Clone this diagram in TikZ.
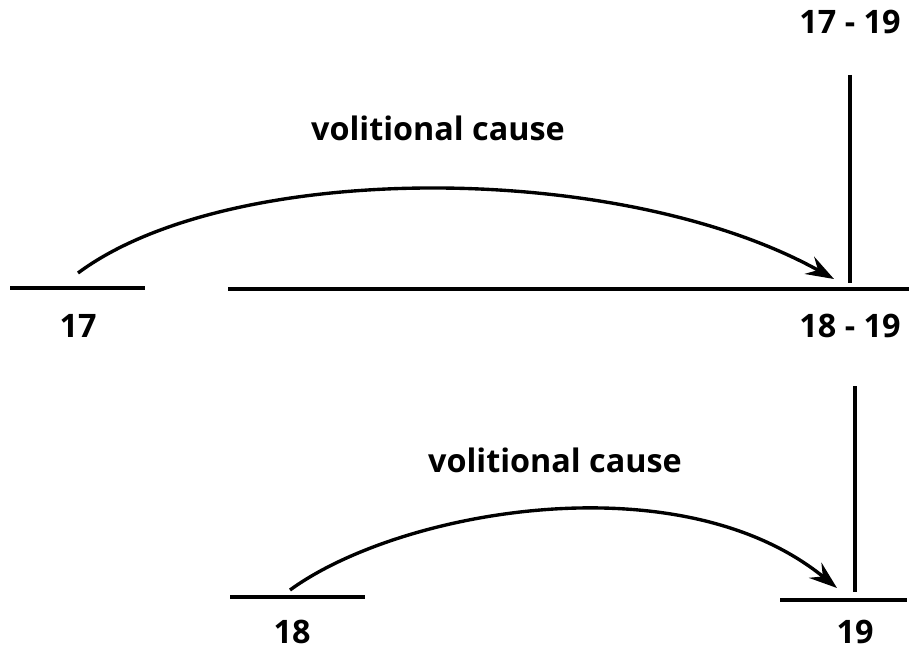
\documentclass[tikz,border=0pt]{standalone}
\usepackage{fontspec}
\setmainfont{Open Sans}
\usetikzlibrary{arrows.meta}
\begin{document}
\begin{tikzpicture}[x=0.025cm,y=-0.025cm,
  seg/.style={line width=2.5pt},
  lbl/.style={font=\fontsize{23}{27}\selectfont\bfseries, inner sep=0pt},
  cause/.style={line width=2.4pt, -{Stealth[length=20pt,width=14pt,inset=7pt]}}]
\useasboundingbox (0,0) rectangle (909,650);
% top part
\coordinate (a1) at (10,288);
\coordinate (a2) at (145,288);
\draw[seg] (a1) -- (a2);
\node[lbl] (l17) at (78,326) {17};
\coordinate (b1) at (228,289);
\coordinate (b2) at (909,289);
\draw[seg] (b1) -- (b2);
\coordinate (v1t) at (850,75);
\coordinate (v1b) at (850,283);
\draw[seg] (v1t) -- (v1b);
\node[lbl] (l1719) at (850,22) {17 - 19};
\node[lbl] (l1819) at (850,326) {18 - 19};
\coordinate (s1) at (78,273);
\coordinate (e1) at (834,279);
\draw[cause] (s1) .. controls (230,160) and (620,160) .. (e1);
\node[lbl] (vc1) at (438,128) {volitional cause};
% bottom part
\coordinate (c1) at (230,597);
\coordinate (c2) at (365,597);
\draw[seg] (c1) -- (c2);
\node[lbl] (l18) at (292,632) {18};
\coordinate (v2t) at (855,386);
\coordinate (v2b) at (855,592);
\draw[seg] (v2t) -- (v2b);
\coordinate (d1) at (780,600);
\coordinate (d2) at (907,600);
\draw[seg] (d1) -- (d2);
\node[lbl] (l19) at (855,632) {19};
\coordinate (s2) at (290,590);
\coordinate (e2) at (837,588);
\draw[cause] (s2) .. controls (400,510) and (680,460) .. (e2);
\node[lbl] (vc2) at (555,460) {volitional cause};
\end{tikzpicture}
\end{document}
